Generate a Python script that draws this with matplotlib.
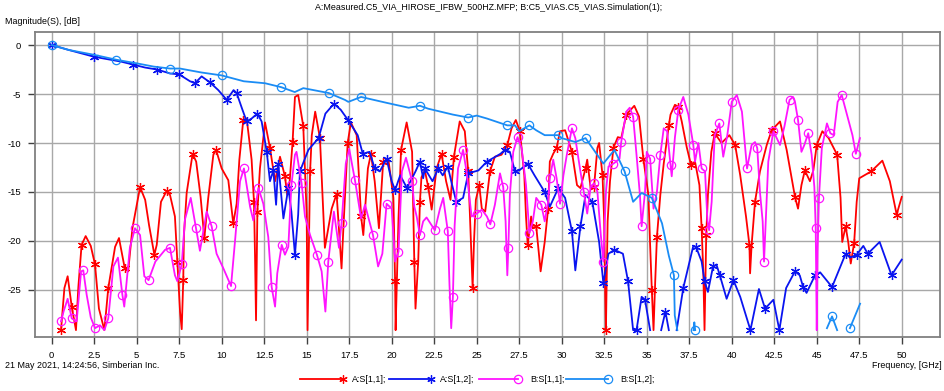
import numpy as np
import matplotlib
matplotlib.use("Agg")
import matplotlib.pyplot as plt
from matplotlib.lines import Line2D

plt.rcParams['font.family'] = ['Liberation Sans', 'DejaVu Sans']

# ---------------- data ----------------
nan = np.nan
a11_f = [0.55, 0.75, 0.94, 1.18, 1.43, 1.57, 1.76, 2.0, 2.3, 2.55, 2.78, 3.1, 3.33, 3.73, 3.96, 4.3, 4.5, 4.75,
         5.2, 5.5, 5.73, 6.04, 6.18, 6.43, 6.76, 6.96, 7.25, 7.39, 7.55, 7.65, 7.74, 7.78, 7.94, 8.29, 8.5, 8.76,
         8.98, 9.21, 9.51, 9.67, 10.0, 10.39, 10.68, 10.88, 11.04, 11.27, 11.47, 11.76, 11.9, 11.96, 12.02, 12.1,
         12.25, 12.55, 12.84, 13.14, 13.43, 13.72, 13.86, 14.0, 14.17, 14.31, 14.5, 14.8, 15.0, 15.05, 15.2, 15.3,
         15.5, 15.78, 16.07, 16.47, 16.76, 17.05, 17.15, 17.41, 17.6, 17.94, 18.2, 18.33, 18.6, 18.78, 19.0, 19.25,
         19.5, 19.8, 20.1, 20.2, 20.23, 20.4, 20.55, 20.88, 21.2, 21.33, 21.4, 21.56, 21.66, 21.75, 21.95, 22.15,
         22.35, 22.64, 22.93, 23.2, 23.46, 23.66, 24.0, 24.3, 24.5, 24.6, 24.7, 24.76, 24.84, 24.95, 25.15, 25.3,
         25.5, 25.78, 26.07, 26.46, 26.8, 27.05, 27.3, 27.54, 27.8, 27.9, 28.0, 28.2, 28.3, 28.5, 28.76, 29.0,
         29.2, 29.3, 29.5, 29.7, 29.9, 30.2, 30.6, 30.9, 31.1, 31.4, 31.5, 31.7, 31.9, 32.1, 32.2, 32.4, 32.5,
         32.55, 32.6, 32.7, 32.84, 33.04, 33.3, 33.5, 33.8, 34.27, 34.55, 34.8, 35.1, 35.2, 35.3, 35.4, 35.5,
         35.6, 35.8, 36.0, 36.3, 36.4, 36.66, 36.86, 37.06, 37.35, 37.6, 37.84, 38.1, 38.23, 38.33, 38.4, 38.5,
         38.6, 38.8, 39.0, 39.4, 39.86, 40.2, 40.5, 40.84, 41.04, 41.08, 41.17, 41.37, 41.66, 42.06, 42.35,
         42.84, 43.23, 43.72, 43.9, 44.1, 44.3, 44.6, 44.8, 45.0, 45.33, 45.7, 46.2, 46.4, 46.5, 46.7, 46.86,
         47.0, 47.2, 47.35, 47.5, 48.2, 48.86, 49.3, 49.7, 50.0]
a11_db = [-29.1, -24.8, -23.6, -26.7, -29.1, -24.7, -20.4, -19.5, -20.5, -22.4, -26.9, -29.1, -24.8, -20.6, -19.7,
          -22.8, -23.1, -18.7, -14.5, -15.8, -18.4, -21.4, -20.4, -16.0, -14.9, -15.3, -17.5, -22.1, -27.2, -29.0,
          -24.0, -19.4, -15.1, -11.1, -11.9, -15.5, -19.7, -15.6, -11.2, -10.7, -12.6, -13.8, -18.2, -16.2, -11.7,
          -7.65, -7.5, -11.7, -16.0, -21.4, -28.1, -17.0, -12.6, -7.9, -10.5, -13.9, -11.4, -13.4, -15.3, -13.9,
          -9.9, -5.3, -5.1, -8.3, -17.3, -29.1, -12.9, -9.2, -6.8, -9.5, -20.7, -16.7, -15.2, -22.8, -19.0, -10.0,
          -7.9, -9.2, -17.5, -19.4, -12.6, -11.1, -13.9, -18.7, -11.9, -11.6, -15.6, -24.1, -29.1, -17.7, -10.7,
          -7.9, -10.9, -22.1, -26.9, -22.1, -16.0, -13.5, -12.8, -14.5, -16.8, -12.6, -11.1, -13.9, -15.8, -11.4,
          -7.8, -8.8, -12.9, -17.3, -22.1, -24.8, -20.1, -15.8, -14.3, -16.7, -17.0, -12.9, -11.4, -11.2, -10.2,
          -8.5, -7.65, -8.8, -13.3, -17.5, -20.4, -17.5, -18.7, -18.5, -23.1, -20.1, -16.7, -11.9, -11.1, -10.5,
          -8.8, -8.7, -10.9, -14.3, -14.6, -12.6, -11.7, -14.6, -14.5, -10.5, -10.0, -13.3, -18.0, -24.5, -29.1,
          -18.0, -13.9, -10.5, -9.4, -9.5, -7.1, -6.2, -7.3, -11.6, -15.3, -20.4, -25.0, -29.1, -24.1, -19.6,
          -15.3, -12.1, -8.2, -7.1, -6.1, -6.3, -7.8, -10.4, -12.2, -11.9, -14.3, -18.7, -23.3, -29.1, -19.4,
          -15.3, -10.9, -9.0, -10.0, -9.2, -10.2, -13.3, -17.5, -20.4, -23.3, -20.4, -16.0, -12.9, -10.2, -8.7,
          -7.8, -10.7, -15.5, -16.7, -14.3, -12.8, -13.9, -12.8, -10.2, -8.8, -9.5, -11.2, -15.6, -20.1, -18.5,
          -20.2, -22.3, -20.2, -16.0, -13.6, -12.9, -11.8, -13.9, -17.3, -15.5]

a12_f = [0.0, 1.0, 2.5, 4.1, 4.8, 5.5, 6.2, 6.96, 7.5, 8.14, 8.43, 8.82, 9.3, 9.8, 10.3, 10.7, 10.88, 11.2, 11.47,
         11.76, 12.1, 12.35, 12.65, 12.84, 13.04, 13.2, 13.33, 13.63, 13.92, 14.1, 14.31, 14.5, 14.6, 15.1, 15.7,
         16.1, 16.6, 17.0, 17.45, 18.0, 18.3, 18.7, 19.0, 19.3, 19.7, 20.0, 20.2, 20.5, 20.9, 21.4, 21.66, 21.85,
         21.95, 22.4, 22.74, 23.0, 23.3, 23.5, 23.8, 24.2, 24.5, 25.1, 25.6, 26.4, 26.66, 26.95, 27.25, 27.5,
         28.0, 28.4, 29.0, 29.3, 29.8, 30.2, 30.6, 30.8, 31.1, 31.4, 31.8, 32.2, 32.45, 32.75, 33.1, 33.6, 33.9,
         34.2, 34.4, 34.7, 34.9, 35.2, 35.5, 35.85, 36.1, 36.3, 36.5, 36.76, 37.15, 37.74, 37.9, 38.23, 38.4,
         38.6, 38.9, 39.1, 39.3, 39.7, 40.1, 40.5, 41.1, 41.6, 41.96, 42.45, 42.8, 43.2, 43.72, 44.0, 44.2, 44.4,
         44.9, 45.2, 45.9, 46.3, 46.7, 46.96, 47.35, 47.74, 48.0, 48.7, 49.4, 50.0]
a12_db = [0.0, -0.5, -1.2, -1.7, -2.0, -2.3, -2.5, -2.9, -3.0, -3.7, -3.9, -3.2, -3.8, -4.6, -5.6, -4.6, -4.9,
          -6.5, -7.8, -7.5, -7.0, -7.8, -10.9, -13.9, -12.8, -16.3, -12.1, -17.7, -14.6, -17.0, -21.4, -17.3,
          -12.9, -10.7, -9.5, -7.0, -6.0, -6.6, -7.7, -9.2, -11.1, -10.9, -12.6, -12.9, -11.6, -13.9, -14.8,
          -13.3, -14.6, -12.9, -11.9, -13.6, -12.6, -13.9, -12.6, -13.3, -12.4, -13.9, -16.0, -15.6, -13.1,
          -12.8, -11.9, -11.1, -10.7, -10.9, -12.9, -12.8, -12.1, -13.3, -15.0, -16.5, -14.6, -15.6, -19.0,
          -23.0, -18.5, -15.3, -16.0, -20.1, -24.3, -21.3, -20.9, -21.3, -24.1, -29.1, -29.1, -25.7, -26.0,
          -29.1, nan, -29.1, -27.2, -29.1, nan, -29.1, -24.8, -20.5, -20.6, -22.1, -24.1, -25.2, -22.6, -22.4,
          -23.5, -25.9, -24.0, -25.7, -29.1, -24.9, -26.9, -26.0, -29.1, -24.8, -23.1, -23.5, -24.7, -25.3,
          -23.5, -23.2, -24.7, -23.0, -21.3, -21.7, -21.4, -20.5, -21.3, -20.1, -23.5, -21.9]

b11_f = [0.55, 0.7, 0.94, 1.18, 1.47, 1.73, 1.86, 2.06, 2.3, 2.55, 2.84, 3.1, 3.33, 3.63, 3.9, 4.16, 4.27, 4.6,
         4.9, 5.2, 5.45, 5.7, 6.1, 6.67, 6.96, 7.25, 7.39, 7.65, 7.84, 8.18, 8.49, 8.72, 9.12, 9.41, 9.7, 10.1,
         10.55, 10.8, 11.08, 11.31, 11.67, 11.86, 12.16, 12.45, 12.74, 12.94, 13.14, 13.27, 13.53, 13.72, 13.92,
         14.1, 14.31, 14.4, 14.7, 14.9, 15.2, 15.6, 15.88, 16.1, 16.27, 16.6, 16.9, 17.05, 17.3, 17.5, 17.84,
         18.2, 18.43, 18.9, 19.2, 19.45, 19.7, 20.0, 20.2, 20.4, 20.6, 20.84, 21.2, 21.33, 21.47, 21.66, 21.85,
         22.05, 22.54, 22.84, 23.03, 23.3, 23.4, 23.5, 23.6, 23.7, 23.9, 24.2, 24.4, 24.7, 25.0, 25.3, 25.6,
         25.8, 26.07, 26.37, 26.56, 26.7, 26.8, 26.86, 26.95, 27.15, 27.4, 27.64, 27.9, 28.1, 28.3, 28.5, 28.8,
         29.0, 29.2, 29.3, 29.5, 29.7, 29.9, 30.1, 30.3, 30.6, 30.8, 31.1, 31.3, 31.5, 31.7, 31.9, 32.1, 32.3,
         32.45, 32.6, 32.75, 33.04, 33.2, 33.4, 33.5, 33.8, 34.0, 34.2, 34.4, 34.6, 34.7, 34.9, 35.0, 35.2, 35.4,
         35.6, 35.8, 36.0, 36.2, 36.4, 36.47, 36.66, 36.86, 37.15, 37.45, 37.74, 37.84, 38.04, 38.23, 38.43,
         38.57, 38.67, 38.82, 39.0, 39.27, 39.5, 39.74, 40.0, 40.3, 40.6, 40.9, 41.17, 41.37, 41.5, 41.66,
         41.82, 41.9, 42.0, 42.15, 42.45, 42.84, 43.1, 43.4, 43.6, 43.72, 43.9, 44.1, 44.27, 44.5, 44.7, 44.86,
         44.94, 45.0, 45.05, 45.13, 45.3, 45.6, 45.8, 46.0, 46.23, 46.47, 46.86, 47.1, 47.3, 47.54]
b11_db = [-28.2, -27.2, -25.9, -27.9, -28.2, -23.1, -23.0, -25.5, -27.8, -28.9, -28.6, -29.1, -27.9, -22.6, -21.7,
          -25.5, -26.7, -20.7, -18.7, -19.4, -23.6, -24.0, -22.1, -20.9, -20.7, -23.5, -24.1, -22.4, -17.8,
          -15.6, -18.7, -21.0, -17.0, -18.5, -21.3, -22.8, -24.6, -19.7, -13.9, -12.6, -16.5, -17.9, -14.6,
          -16.2, -19.6, -24.7, -26.7, -23.3, -20.4, -21.4, -20.6, -14.3, -11.2, -10.9, -14.1, -17.5, -19.4,
          -21.4, -23.1, -27.2, -22.1, -17.0, -20.7, -18.2, -12.1, -10.6, -13.8, -17.7, -16.3, -19.4, -22.6,
          -21.3, -16.2, -16.7, -22.1, -21.1, -12.9, -11.5, -13.9, -16.5, -17.5, -19.4, -18.0, -17.6, -18.9,
          -16.7, -15.6, -19.0, -24.5, -28.9, -25.7, -18.5, -12.6, -10.7, -12.9, -17.5, -17.2, -16.8, -17.5,
          -18.3, -16.3, -13.1, -14.5, -18.0, -23.5, -20.7, -15.3, -10.9, -9.4, -10.5, -14.3, -19.2, -18.0,
          -15.6, -16.3, -18.0, -16.0, -13.6, -11.7, -13.6, -16.2, -13.3, -11.2, -8.5, -9.5, -12.9, -15.0,
          -17.2, -14.5, -14.1, -15.0, -19.4, -22.1, -15.0, -12.4, -12.1, -11.9, -11.6, -9.9, -6.8, -6.4, -7.3,
          -11.2, -15.3, -18.5, -15.0, -10.9, -11.6, -16.7, -15.0, -11.2, -8.5, -8.8, -12.2, -13.4, -9.4, -6.6,
          -5.3, -7.1, -10.2, -11.9, -10.0, -12.6, -12.9, -17.9, -18.9, -16.0, -9.2, -8.0, -11.4, -9.2, -5.8,
          -5.1, -6.8, -12.6, -10.2, -9.9, -10.5, -15.0, -18.0, -22.1, -18.0, -11.9, -8.8, -10.2, -8.3, -5.6,
          -5.3, -5.8, -7.65, -10.9, -10.2, -9.0, -11.2, -14.5, -18.7, -29.1, -21.1, -15.6, -10.5, -8.0, -9.0,
          -9.2, -5.8, -5.1, -7.65, -9.2, -11.1, -9.5]

b12_f = [0.0, 1.0, 2.5, 3.8, 5.1, 6.0, 6.96, 7.55, 8.8, 10.0, 11.3, 12.55, 13.5, 14.3, 14.8, 16.3, 17.25, 17.45,
         18.2, 19.7, 21.0, 21.66, 22.15, 23.6, 24.5, 25.0, 25.6, 26.8, 27.25, 27.5, 28.1, 28.5, 29.0, 29.8,
         30.0, 30.8, 31.4, 32.45, 33.1, 33.7, 34.2, 34.7, 35.3, 35.9, 36.3, 36.6, 36.65, 36.8, 37.3,
         37.75, 37.8, 37.85, 40.0, 45.6, 45.9, 46.2, 46.6, 46.95, 47.55]
b12_db = [0.0, -0.5, -1.0, -1.5, -1.9, -2.2, -2.4, -2.4, -2.8, -3.1, -3.7, -3.9, -4.3, -4.8, -4.4, -4.9, -5.6,
          -5.8, -5.3, -5.9, -6.4, -6.2, -6.5, -7.1, -7.4, -7.2, -7.5, -8.2, -8.2, -8.8, -8.2, -8.7, -9.2, -9.2,
          -9.5, -9.9, -9.5, -12.1, -10.7, -12.9, -16.0, -15.1, -15.6, -18.2, -21.5, -23.5, -27.6, -29.1, nan,
          -29.1, -28.3, -29.1, nan, -28.9, -27.7, -29.1, nan, -28.9, -26.4]

x_ticks = [0, 2.5, 5, 7.5, 10, 12.5, 15, 17.5, 20, 22.5, 25, 27.5, 30, 32.5, 35, 37.5, 40, 42.5, 45, 47.5, 50]
x_tick_labels = ["0", "2.5", "5", "7.5", "10", "12.5", "15", "17.5", "20", "22.5", "25", "27.5", "30",
                 "32.5", "35", "37.5", "40", "42.5", "45", "47.5", "50"]
y_ticks = [0, -5, -10, -15, -20, -25]
y_tick_labels = ["0", "-5", "-10", "-15", "-20", "-25"]

series_names = ["A:S[1,1];", "A:S[1,2];", "B:S[1,1];", "B:S[1,2];"]
title_text = "A:Measured.C5_VIA_HIROSE_IFBW_500HZ.MFP; B:C5_VIAS.C5_VIAS.Simulation(1);"

# ---------------- figure ----------------
W, H = 945, 391
fig = plt.figure(figsize=(W / 100, H / 100), dpi=100)
fig.patch.set_facecolor('white')

def fx(px):
    return px / W

def fy(py):
    return 1 - py / H

ax = fig.add_axes([fx(35), fy(337), fx(940) - fx(35), fy(32) - fy(337)])
ax.set_xlim(-0.98, 52.25)
ax.set_ylim(-29.8, 1.33)

ax.set_xticks(x_ticks)
ax.set_xticklabels(x_tick_labels)
ax.set_yticks(y_ticks)
ax.set_yticklabels(y_tick_labels)
ax.tick_params(axis='both', direction='out', length=5, width=1, color='#404040',
               labelsize=6.8, labelcolor='black', pad=5)
ax.grid(True, color='#a8a8a8', linewidth=1.0)
ax.set_axisbelow(True)
for sp in ax.spines.values():
    sp.set_color('#808080')
    sp.set_linewidth(1.3)

red = '#ff0000'
blue = '#0a14f0'
mag = '#ff14ff'
lblue = '#1a8cf5'
ast = (6, 2, 0)

ax.plot(a11_f, a11_db, color=red, lw=1.3, marker=ast, ms=6.5, mew=0.9, markevery=3, zorder=3)
ax.plot(a12_f, a12_db, color=blue, lw=1.3, marker=ast, ms=6.5, mew=0.9, markevery=2, zorder=4)
ax.plot(b11_f, b11_db, color=mag, lw=1.3, marker='o', ms=6, mfc='none', mew=0.9, markevery=3, zorder=5)
ax.plot(b12_f, b12_db, color=lblue, lw=1.3, marker='o', ms=6, mfc='none', mew=0.9, markevery=3, zorder=6)

# ---------------- texts ----------------
fs = 6.4
fig.text(fx(489), fy(8), title_text, ha='center', va='center', fontsize=fs)
fig.text(fx(5), fy(22), "Magnitude(S), [dB]", ha='left', va='center', fontsize=fs)
fig.text(fx(5), fy(366), "21 May 2021, 14:24:56, Simberian Inc.", ha='left', va='center', fontsize=fs)
fig.text(fx(942), fy(366), "Frequency, [GHz]", ha='right', va='center', fontsize=fs)

# ---------------- legend ----------------
leg_colors = [red, blue, mag, lblue]
leg_markers = [ast, ast, 'o', 'o']
leg_x = [(300, 343, 352), (389, 431, 440), (479, 518, 530), (566, 608, 620)]
ly = fy(379)
for name, c, m, (x0, x1, xt) in zip(series_names, leg_colors, leg_markers, leg_x):
    fig.add_artist(Line2D([fx(x0), fx(x1)], [ly, ly], color=c, lw=1.3, transform=fig.transFigure))
    fig.add_artist(Line2D([fx(x1)], [ly], color=c, marker=m, ms=6, mfc='none', mew=0.9,
                          transform=fig.transFigure))
    fig.text(fx(xt), ly, name, ha='left', va='center', fontsize=fs)

fig.savefig('out.png', dpi=100)
